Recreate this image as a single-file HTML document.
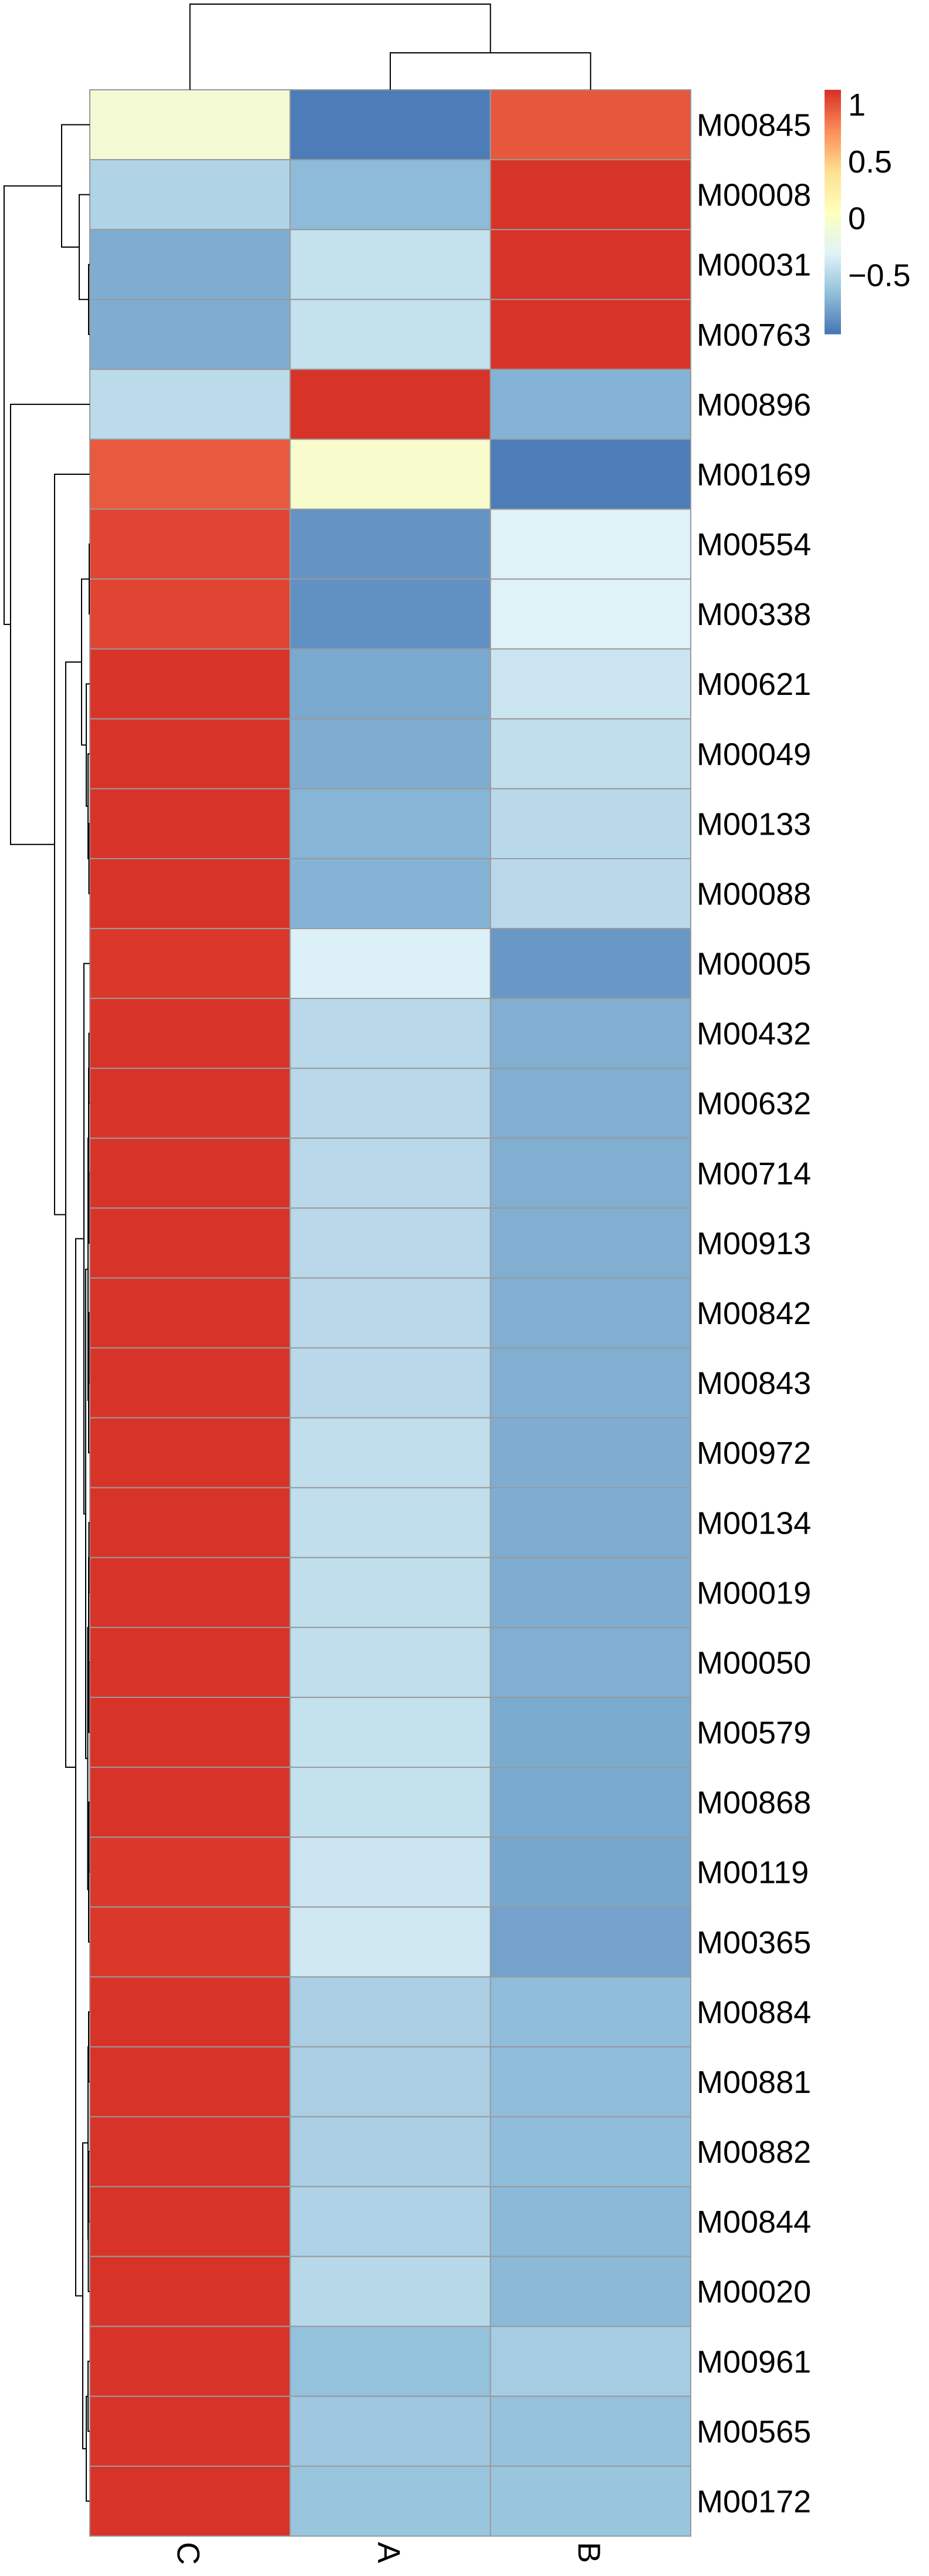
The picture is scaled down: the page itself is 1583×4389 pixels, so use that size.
<!DOCTYPE html>
<html><head><meta charset="utf-8"><style>
html,body{margin:0;padding:0;background:#fff;}
svg{display:block;font-family:"Liberation Sans",Arial,sans-serif;}
</style></head><body>
<svg id="chart" width="1583" height="4389" viewBox="0 0 1583 4389" xmlns="http://www.w3.org/2000/svg">
<g id="cells"></g>
<g id="rowlabels"></g>
<g id="collabels"></g>
<g id="rowdend"></g>
<g id="coldend"></g>
<g id="legend"></g>
</svg>
<script>
const columns = ["C","A","B"];
const rowNames = ["M00845","M00008","M00031","M00763","M00896","M00169","M00554","M00338","M00621","M00049","M00133","M00088","M00005","M00432","M00632","M00714","M00913","M00842","M00843","M00972","M00134","M00019","M00050","M00579","M00868","M00119","M00365","M00884","M00881","M00882","M00844","M00020","M00961","M00565","M00172"];
const valuesC = [-0.08,-0.52,-0.75,-0.75,-0.47,0.97,1.05,1.05,1.12,1.12,1.12,1.12,1.1,1.12,1.12,1.12,1.12,1.12,1.12,1.12,1.12,1.12,1.12,1.12,1.12,1.1,1.1,1.12,1.12,1.12,1.12,1.12,1.12,1.12,1.12];
const valuesA = [-0.98,-0.68,-0.43,-0.43,1.12,-0.03,-0.87,-0.89,-0.77,-0.75,-0.71,-0.72,-0.32,-0.48,-0.48,-0.48,-0.48,-0.48,-0.48,-0.45,-0.45,-0.45,-0.45,-0.43,-0.43,-0.40,-0.38,-0.55,-0.55,-0.55,-0.53,-0.49,-0.65,-0.60,-0.62];
const valuesB = [0.98,1.12,1.12,1.12,-0.72,-0.98,-0.31,-0.31,-0.40,-0.45,-0.48,-0.48,-0.85,-0.74,-0.74,-0.74,-0.74,-0.74,-0.74,-0.75,-0.75,-0.75,-0.74,-0.76,-0.77,-0.78,-0.80,-0.67,-0.67,-0.67,-0.69,-0.69,-0.57,-0.64,-0.62];
const legendTicks = [1,0.5,0,-0.5];
const legendTickLabels = ["1","0.5","0","\u22120.5"];
// row dendrogram: [left, right, mergeX]; leaves are row indices
const rowTree = [
  [0,[1,[2,3,151],135],105],
  [4,[5,[
      [[6,7,152],[8,[9,[10,11,151.5],150],147],139],
      [
        [12,[
          [[[13,14,151.5],[15,16,151.5],151],[[17,18,151.5],19,151],150],
          [[[20,21,151.5],[22,23,151.5],151],[[24,25,151.5],26,151],149.5],
        146],143],
        [[[27,28,151],[[29,30,151],31,150.5],150],[[32,33,150],34,147],141],
      129],
    112],93],18],
  7];
const colTree = [0,[1,2,90],7];

const NS="http://www.w3.org/2000/svg";
const X0=153,X1=1177,Y0=153,Y1=4321;
const cw=(X1-X0)/columns.length, rh=(Y1-Y0)/rowNames.length;
const vmin=-1.02,vmax=1.13;
const pal=["#4575B4","#91BFDB","#E0F3F8","#FFFFBF","#FEE090","#FC8D59","#D73027"];
function hex(h){return [1,3,5].map(i=>parseInt(h.substr(i,2),16));}
function color(v){let t=(v-vmin)/(vmax-vmin);t=Math.max(0,Math.min(1,t));const p=t*(pal.length-1);const i=Math.min(pal.length-2,Math.floor(p));const f=p-i;const a=hex(pal[i]),b=hex(pal[i+1]);return "rgb("+a.map((c,k)=>Math.round(c+(b[k]-c)*f)).join(",")+")";}
function xCol(j){return X0+j*cw;}
function yRow(i){return Y0+i*rh;}
function mk(tag,attrs,parent){const e=document.createElementNS(NS,tag);for(const k in attrs)e.setAttribute(k,attrs[k]);parent.appendChild(e);return e;}
const series=[valuesC,valuesA,valuesB];
const gC=document.getElementById('cells');
for(let i=0;i<rowNames.length;i++){for(let j=0;j<columns.length;j++){
  const r=mk('rect',{x:xCol(j),y:yRow(i),width:cw,height:rh,fill:color(series[j][i]),stroke:"#9a9a9a","stroke-width":2},gC);
  
  
}}
const gR=document.getElementById('rowlabels');
rowNames.forEach((n,i)=>{const t=mk('text',{x:X1+10,y:yRow(i)+rh/2+19,"font-size":54,fill:"#000"},gR);t.textContent=n;
  
  });
const gL=document.getElementById('collabels');
columns.forEach((c,j)=>{const cx=xCol(j)+cw/2-21;const t=mk('text',{x:cx,y:Y1+10,"font-size":54,fill:"#000",transform:"rotate(90 "+cx+" "+(Y1+10)+")"},gL);t.textContent=c;
  
  });
const gD=document.getElementById('rowdend');
function drawRow(n){ if(typeof n==="number") return {y:yRow(n)+rh/2,x:X0};
  const a=drawRow(n[0]),b=drawRow(n[1]),x=n[2];
  const p=mk('path',{d:"M"+a.x+" "+a.y+"H"+x+"V"+b.y+"H"+b.x,fill:"none",stroke:"#000","stroke-width":2},gD);
  
  
  return {y:(a.y+b.y)/2,x:x};}
drawRow(rowTree);
const gT=document.getElementById('coldend');
function drawCol(n){ if(typeof n==="number") return {x:xCol(n)+cw/2,y:Y0};
  const a=drawCol(n[0]),b=drawCol(n[1]),y=n[2];
  const p=mk('path',{d:"M"+a.x+" "+a.y+"V"+y+"H"+b.x+"V"+b.y,fill:"none",stroke:"#000","stroke-width":2},gT);
  
  
  return {x:(a.x+b.x)/2,y:y};}
drawCol(colTree);
const gG=document.getElementById('legend');
const LX=1405,LW=28,LT=153,LB=569;
function yLeg(v){return LB-(v-vmin)/(vmax-vmin)*(LB-LT);}
const steps=100;
for(let k=0;k<steps;k++){const v=vmin+(vmax-vmin)*(k+0.5)/steps;const yb=yLeg(vmin+(vmax-vmin)*k/steps),yt=yLeg(vmin+(vmax-vmin)*(k+1)/steps);
  const r=mk('rect',{x:LX,y:yt,width:LW,height:yb-yt+0.6,fill:color(v)},gG);
  
  }
legendTicks.forEach((v,k)=>{const t=mk('text',{x:1445,y:yLeg(v)+19,"font-size":54,fill:"#000"},gG);t.textContent=legendTickLabels[k];
  
  });
</script>
</body></html>
